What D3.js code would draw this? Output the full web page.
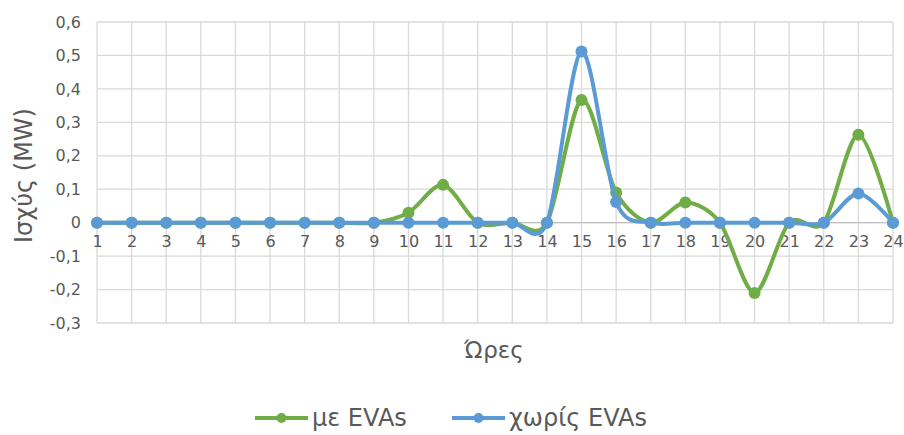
<!DOCTYPE html>
<html><head><meta charset="utf-8">
<script src="https://cdn.jsdelivr.net/npm/d3@7"></script>
<style>body{margin:0;background:#fff;} svg{display:block;} text{font-family:"DejaVu Sans",sans-serif;}</style>
</head><body>
<svg id="c" width="904" height="435"></svg>
<script>
const hours = d3.range(1, 25);
const withEVAs = [0,0,0,0,0,0,0,0,0,0.03,0.113,0,0,0,0.367,0.09,0,0.06,0,-0.21,0,0,0.263,0];
const withoutEVAs = [0,0,0,0,0,0,0,0,0,0,0,0,0,0,0.512,0.062,0,0,0,0,0,0,0.087,0];
const yTicks = [-0.3,-0.2,-0.1,0,0.1,0.2,0.3,0.4,0.5,0.6];
const seriesNames = ["με EVAs", "χωρίς EVAs"];
const colors = ["#70AD47", "#5B9BD5"];
const yTitle = "Ισχύς (MW)";
const xTitle = "Ώρες";

const svg = d3.select("#c");
const L = 97, R = 893, T = 22, B = 323;
const x = d3.scalePoint().domain(hours).range([L, R]);
const y = d3.scaleLinear().domain([-0.3, 0.6]).range([B, T]);
const txt = "#595959";

// gridlines
svg.append("g").selectAll("line").data(yTicks).join("line")
  .attr("x1", L).attr("x2", R).attr("y1", d => y(d)).attr("y2", d => y(d))
  .attr("stroke", "#d9d9d9").attr("stroke-width", 1.3);
svg.append("g").selectAll("line").data(hours).join("line")
  .attr("x1", d => x(d)).attr("x2", d => x(d)).attr("y1", T).attr("y2", B)
  .attr("stroke", "#d9d9d9").attr("stroke-width", 1.3);
svg.append("line").attr("x1", L).attr("x2", R).attr("y1", y(0)).attr("y2", y(0))
  .attr("stroke", "#bfbfbf").attr("stroke-width", 1.3);

// y axis labels
const yAxis = d3.axisLeft(y).tickValues(yTicks).tickSize(0).tickPadding(0)
  .tickFormat(d => d === 0 ? "0" : d3.format(".1f")(d).replace(".", ",").replace("−", "-"));
const gy = svg.append("g").attr("transform", `translate(${81},0)`).call(yAxis);
gy.select(".domain").remove();
gy.attr("font-family", null);
gy.selectAll("text").attr("font-size", 16).attr("fill", txt);

// x axis labels along zero line
const xAxis = d3.axisBottom(x).tickSize(0).tickPadding(0);
const gx = svg.append("g").attr("transform", `translate(0,${y(0) + 13})`).call(xAxis);
gx.select(".domain").remove();
gx.attr("font-family", null);
gx.selectAll("text").attr("font-size", 16).attr("fill", txt);

// lines
const line = d3.line().x((d, i) => x(hours[i])).y(d => y(d)).curve(d3.curveCardinal.tension(0.1));
[withEVAs, withoutEVAs].forEach((s, k) => {
  svg.append("path").datum(s).attr("d", line).attr("fill", "none")
    .attr("stroke", colors[k]).attr("stroke-width", 4).attr("stroke-linejoin", "round").attr("stroke-linecap", "round");
  svg.append("g").selectAll("circle").data(s).join("circle")
    .attr("cx", (d, i) => x(hours[i])).attr("cy", d => y(d)).attr("r", 6)
    .attr("fill", colors[k]);
});

// axis titles
svg.append("text").attr("transform", `translate(32,${(T + B) / 2 + 3}) rotate(-90)`)
  .attr("text-anchor", "middle").attr("font-size", 24).attr("fill", txt).text(yTitle);
svg.append("text").attr("x", 494).attr("y", 358)
  .attr("text-anchor", "middle").attr("font-size", 23).attr("fill", txt).text(xTitle);

// legend
const legX = [255, 452];
seriesNames.forEach((n, k) => {
  const g = svg.append("g").attr("transform", `translate(${legX[k]},418)`);
  g.append("line").attr("x1", 0).attr("x2", 53).attr("y1", 0).attr("y2", 0)
    .attr("stroke", colors[k]).attr("stroke-width", 4);
  g.append("circle").attr("cx", 26.5).attr("cy", 0).attr("r", 5).attr("fill", colors[k]);
  g.append("text").attr("x", 57).attr("y", 8).attr("font-size", 24)
    .attr("fill", txt).text(n);
});
</script>
</body></html>
